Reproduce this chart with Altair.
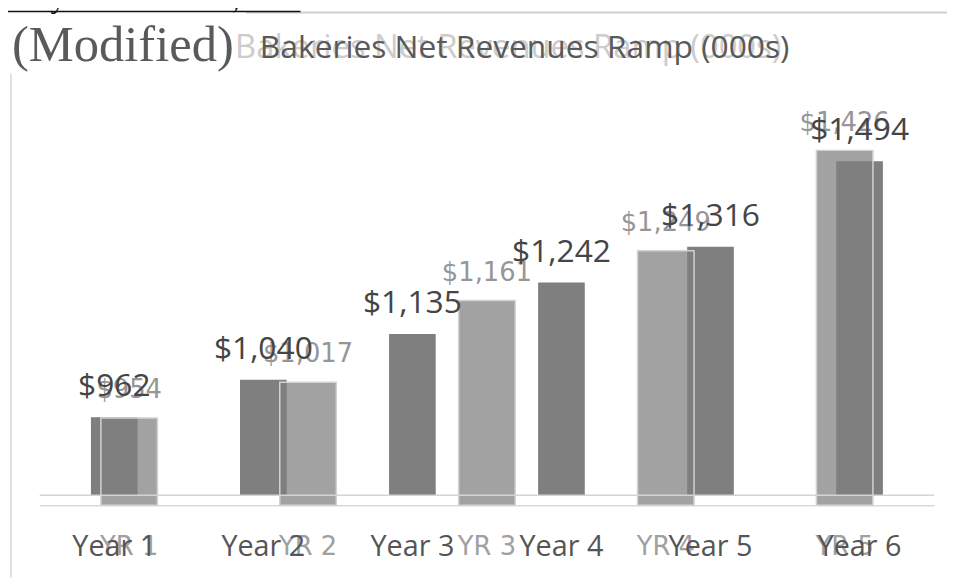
import altair as alt
import pandas as pd

# ---- data ----
dark_years = ["Year 1", "Year 2", "Year 3", "Year 4", "Year 5", "Year 6"]
dark_values = [962, 1040, 1135, 1242, 1316, 1494]

light_years = ["YR 1", "YR 2", "YR 3", "YR 4", "YR 5"]
light_values = [954, 1017, 1161, 1249, 1426]

base_value = 800

title_main = "Bakeries Net Revenues Ramp (000s)"
title_prefix = "(Modified)"
top_text = "ed by December 31, 2023."

dark_df = pd.DataFrame({
    "year": dark_years,
    "value": dark_values,
    "base": [base_value] * len(dark_years),
    "label": [f"${v:,}" for v in dark_values],
})
light_df = pd.DataFrame({
    "year": light_years,
    "value": light_values,
    "base": [base_value] * len(light_years),
    "label": [f"${v:,}" for v in light_values],
})
one = pd.DataFrame({"a": [0]})

FONT = "Open Sans"
LFONT = "DejaVu Sans"

light_x = alt.Scale(domain=light_years, paddingInner=0.684, paddingOuter=0.342)
dark_x = alt.Scale(domain=dark_years, paddingInner=0.687, paddingOuter=0.3435)
light_y = alt.Scale(domain=[800, 1512], nice=False, zero=False)
dark_y = alt.Scale(domain=[779.4, 1617.6], nice=False, zero=False)

# light series (the faded chart)
light_bars = alt.Chart(light_df).mark_bar(color="#a2a2a2").encode(
    x=alt.X("year:N", sort=light_years, scale=light_x,
            axis=alt.Axis(title=None, orient="bottom", labelAngle=0, labelFont=LFONT,
                          labelFontSize=26, labelColor="#a0a0a0", labelPadding=50,
                          labelBaseline="alphabetic", ticks=False, tickSize=0,
                          domainColor="#d9d9d9", domainWidth=1.5, grid=False)),
    y=alt.Y("value:Q", scale=light_y, axis=None),
    y2="base",
)

light_outline = alt.Chart(light_df).mark_bar(fillOpacity=0, stroke="#d2d2d2", strokeWidth=1.5).encode(
    x=alt.X("year:N", sort=light_years, scale=light_x, axis=None),
    y=alt.Y("value:Q", scale=light_y, axis=None),
    y2="base",
)

light_text = alt.Chart(light_df).mark_text(
    font=LFONT, fontSize=26, color="#969696", baseline="alphabetic", dy=-20
).encode(
    x=alt.X("year:N", sort=light_years, scale=light_x, axis=None),
    y=alt.Y("value:Q", scale=light_y, axis=None),
    text="label:N",
)

# dark series (the modified chart)
dark_bars = alt.Chart(dark_df).mark_bar(color="#7f7f7f").encode(
    x=alt.X("year:N", sort=dark_years, scale=dark_x,
            axis=alt.Axis(title=None, orient="bottom", labelAngle=0, labelFont=FONT,
                          labelFontSize=29, labelColor="#555555", labelPadding=51,
                          labelBaseline="alphabetic", ticks=False, tickSize=0,
                          domain=False, grid=False)),
    y=alt.Y("value:Q", scale=dark_y, axis=None),
    y2="base",
)

dark_rule = alt.Chart(one).mark_rule(color="#d4d4d4", strokeWidth=1.5).encode(
    y=alt.YDatum(base_value, scale=dark_y, axis=None),
)

dark_text = alt.Chart(dark_df).mark_text(
    font=FONT, fontSize=32, color="#454545", baseline="alphabetic", dy=-21
).encode(
    x=alt.X("year:N", sort=dark_years, scale=dark_x, axis=None),
    y=alt.Y("value:Q", scale=dark_y, axis=None),
    text="label:N",
)

# decorations (titles, page lines)
ghost_title = alt.Chart(one).mark_text(
    font=FONT, fontSize=33, color="#cccccc", align="left", baseline="alphabetic"
).encode(x=alt.value(197), y=alt.value(-44), text=alt.value(title_main))

main_title = alt.Chart(one).mark_text(
    font=FONT, fontSize=32, color="#595959", align="left", baseline="alphabetic"
).encode(x=alt.value(222), y=alt.value(-44), text=alt.value(title_main))

prefix = alt.Chart(one).mark_text(
    font="Liberation Serif", fontSize=51, color="#5a5a5a", align="left", baseline="alphabetic"
).encode(x=alt.value(-28), y=alt.value(-41), text=alt.value(title_prefix))

top_line = alt.Chart(one).mark_rule(color="#d0d0d0", strokeWidth=2).encode(
    x=alt.value(208), x2=alt.value(920), y=alt.value(-90))

underline = alt.Chart(one).mark_rule(color="#111111", strokeWidth=1.5).encode(
    x=alt.value(-32), x2=alt.value(263), y=alt.value(-91))

top_txt = alt.Chart(one).mark_text(
    font="Liberation Serif", fontSize=30, color="#111111", align="left", baseline="alphabetic"
).encode(x=alt.value(-40), y=alt.value(-94), text=alt.value(top_text))

left_line = alt.Chart(one).mark_rule(color="#d6d6d6", strokeWidth=1.5).encode(
    x=alt.value(-29), y=alt.value(-28), y2=alt.value(480))

chart = alt.layer(
    left_line, top_line, underline, top_txt,
    light_bars, dark_bars, light_outline, dark_rule,
    light_text, dark_text,
    ghost_title, main_title, prefix,
).resolve_scale(x="independent", y="independent").properties(
    width=902,
    height=407,
    autosize=alt.AutoSizeParams(type="none"),
    padding={"left": 32, "top": 92, "right": 13, "bottom": 72},
    background="white",
).configure_view(stroke=None)

chart.save("out.html", embed_options={"renderer": "svg", "actions": False})
